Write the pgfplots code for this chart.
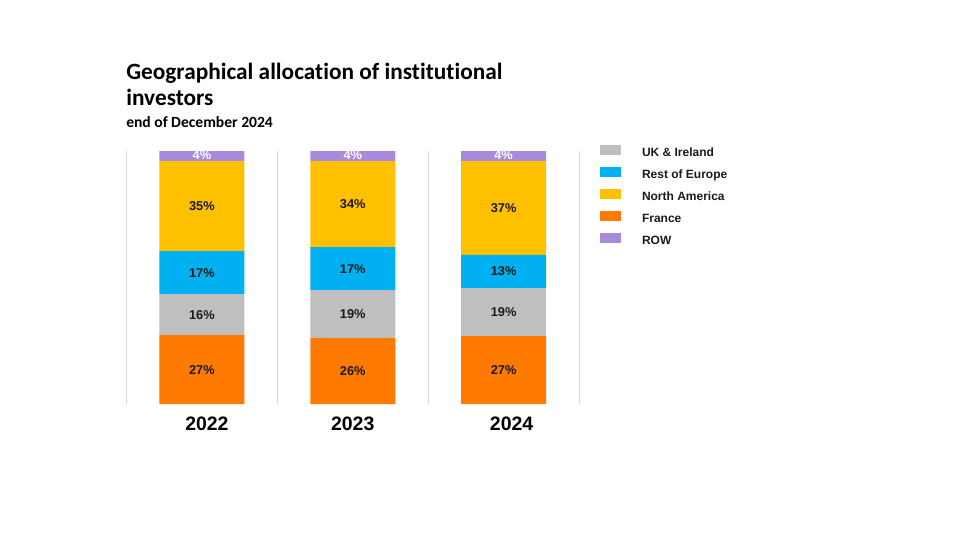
\documentclass[border=0pt]{standalone}
\usepackage{fontspec}
\setmainfont{Liberation Sans}
\newfontfamily\titlefont[Ligatures=NoCommon]{Carlito}
\usepackage{pgfplots}
\usepackage{pgfplotstable}
\pgfplotsset{compat=1.18}
\definecolor{cFR}{HTML}{FF7A00}
\definecolor{cUK}{HTML}{BFBFBF}
\definecolor{cRE}{HTML}{00B0F0}
\definecolor{cNA}{HTML}{FFC000}
\definecolor{cRW}{HTML}{A78BDA}
\definecolor{cGrid}{HTML}{D9D9D9}
\definecolor{cTxt}{HTML}{1A1A1A}

% shares of each year (each column sums to about 100)
\pgfplotstableread{
x France UK RestEurope NorthAmerica ROW
0 27.2 16.2 17.0 35.6 4.0
1 26.0 19.0 17.0 34.0 4.0
2 26.8 19.0 13.1 37.1 4.0
}\shares

% label positions (middle of each segment) and label text
\pgfplotstableread{
x y label
0 13.6 27\%
0 35.3 16\%
0 51.9 17\%
0 78.2 35\%
1 13.0 26\%
1 35.5 19\%
1 53.5 17\%
1 79.0 34\%
2 13.4 27\%
2 36.3 19\%
2 52.4 13\%
2 77.5 37\%
}\darklabels
\pgfplotstableread{
x y label
0 98.3 4\%
1 98.3 4\%
2 98.3 4\%
}\whitelabels

\pgfplotsset{
  common/.style={
    at={(94.875pt,102pt)}, anchor=south west,
    scale only axis, width=339.375pt, height=189.75pt,
    xmin=-0.5, xmax=2.5, ymin=0, ymax=100,
    axis line style={draw=none},
    ytick=\empty, major tick length=0pt,
  }
}

\begin{document}
\begin{tikzpicture}
\path[use as bounding box] (0,0) rectangle (720pt,405pt);

\node[anchor=base west, inner sep=0pt, font=\titlefont\bfseries\fontsize{17.5}{20}\selectfont] at (94.5pt,345.5pt) {Geographical allocation of institutional};
\node[anchor=base west, inner sep=0pt, font=\titlefont\bfseries\fontsize{17.5}{20}\selectfont] at (94.5pt,326pt) {investors};
\node[anchor=base west, inner sep=0pt, font=\titlefont\bfseries\fontsize{11.7}{14}\selectfont] at (94.5pt,309.5pt) {end of December 2024};

\begin{axis}[common,
  ybar stacked, bar width=63.75pt,
  xtick={0,1,2},
  xticklabels={\hspace{7.5pt}2022,2023,\hspace{12pt}2024},
  x tick label style={font=\bfseries\fontsize{14.6}{17}\selectfont, anchor=center, yshift=-15pt, text=black},
  extra x ticks={-0.5,0.5,1.5,2.5},
  extra x tick labels={,,,},
  extra x tick style={grid=major, major grid style={draw=cGrid, line width=0.75pt}},
]
\addplot[fill=cFR, draw=none, bar shift=0pt] table[x=x, y=France] {\shares};
\addplot[fill=cUK, draw=none, bar shift=0pt] table[x=x, y=UK] {\shares};
\addplot[fill=cRE, draw=none, bar shift=0pt] table[x=x, y=RestEurope] {\shares};
\addplot[fill=cNA, draw=none, bar shift=0pt] table[x=x, y=NorthAmerica] {\shares};
\addplot[fill=cRW, draw=none, bar shift=0pt] table[x=x, y=ROW] {\shares};
\end{axis}

\begin{axis}[common,
  xtick=\empty,
  legend image code/.code={\fill[#1, draw=none] (0pt,-2.1pt) rectangle (15.75pt,5.4pt);},
  legend cell align=left,
  legend style={at={(axis description cs:1.0464,1.0218)}, anchor=north west,
    draw=none, fill=none, inner sep=0pt, outer sep=0pt,
    font=\bfseries\fontsize{9}{10}\selectfont, text=cTxt,
    row sep=6.6pt,
    nodes={inner sep=0pt, text height=7pt, text depth=2pt},
    /tikz/every odd column/.append style={column sep=15.75pt}},
]
\addplot[only marks, mark=none, forget plot, point meta=explicit symbolic,
  nodes near coords, nodes near coords align={center},
  every node near coord/.append style={font=\bfseries\fontsize{9.6}{11}\selectfont, text=cTxt, inner sep=0pt}]
  table[x=x, y=y, meta=label] {\darklabels};
\addplot[only marks, mark=none, forget plot, point meta=explicit symbolic,
  nodes near coords, nodes near coords align={center},
  every node near coord/.append style={font=\bfseries\fontsize{9.6}{11}\selectfont, text=white, inner sep=0pt}]
  table[x=x, y=y, meta=label] {\whitelabels};
\addlegendimage{fill=cUK, draw=none}
\addlegendentry{UK \& Ireland}
\addlegendimage{fill=cRE, draw=none}
\addlegendentry{Rest of Europe}
\addlegendimage{fill=cNA, draw=none}
\addlegendentry{North America}
\addlegendimage{fill=cFR, draw=none}
\addlegendentry{France}
\addlegendimage{fill=cRW, draw=none}
\addlegendentry{ROW}
\end{axis}
\end{tikzpicture}
\end{document}
